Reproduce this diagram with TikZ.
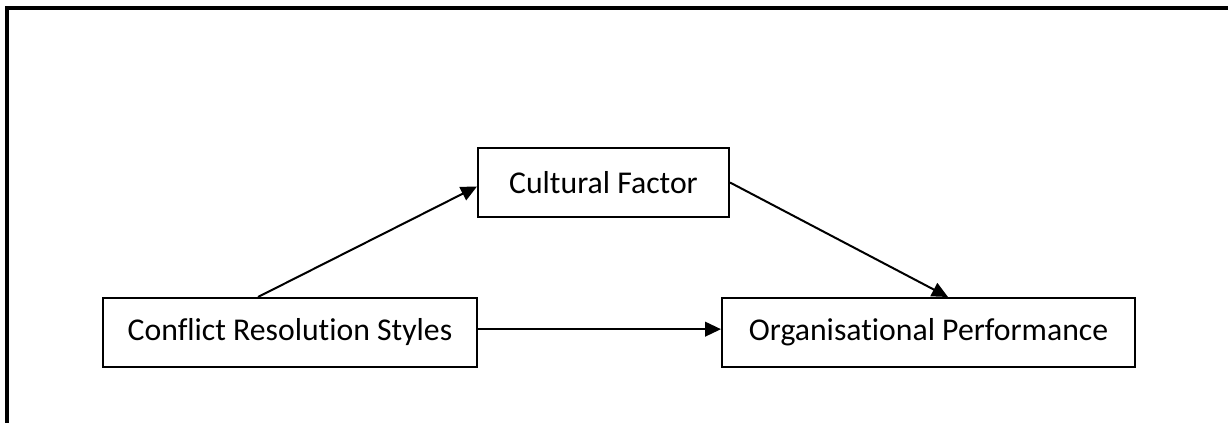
\documentclass[tikz,border=0pt]{standalone}
\usepackage{fontspec}
\setmainfont[Ligatures={NoCommon}]{Carlito}
\usepackage{tikz}
\usetikzlibrary{arrows.meta, positioning, calc}

\tikzset{
  varbox/.style={draw=black, line width=1.5pt, minimum height=51.75pt, inner sep=0pt,
    font=\fontsize{23.8}{28}\selectfont},
  link/.style={line width=1.5pt, -{Triangle[length=12pt,width=11pt]}}
}

\begin{document}
\begin{tikzpicture}[x=0.75pt, y=-0.75pt]
    \useasboundingbox (0,0) rectangle (1228,423);
    % outer frame (top and left edges only)
    \draw[line width=3pt] (7,423) -- (7,8) -- (1228,8);
    % variables
    \node[varbox, minimum width=280.5pt] (crs) at (290,332.5) {Conflict Resolution Styles};
    \node[varbox, minimum width=188.25pt] (cf) at (603.5,182.5) {Cultural Factor};
    \node[varbox, minimum width=309.75pt] (op) at (928.5,332.5) {Organisational Performance};
    % paths
    \draw[link] ([xshift=-24pt]crs.north) -- ([yshift=-3pt]cf.west);
    \draw[link] (cf.east) -- ([xshift=14.6pt]op.north);
    \draw[link] ([yshift=2.5pt]crs.east) -- ([yshift=2.5pt]op.west);
\end{tikzpicture}
\end{document}
